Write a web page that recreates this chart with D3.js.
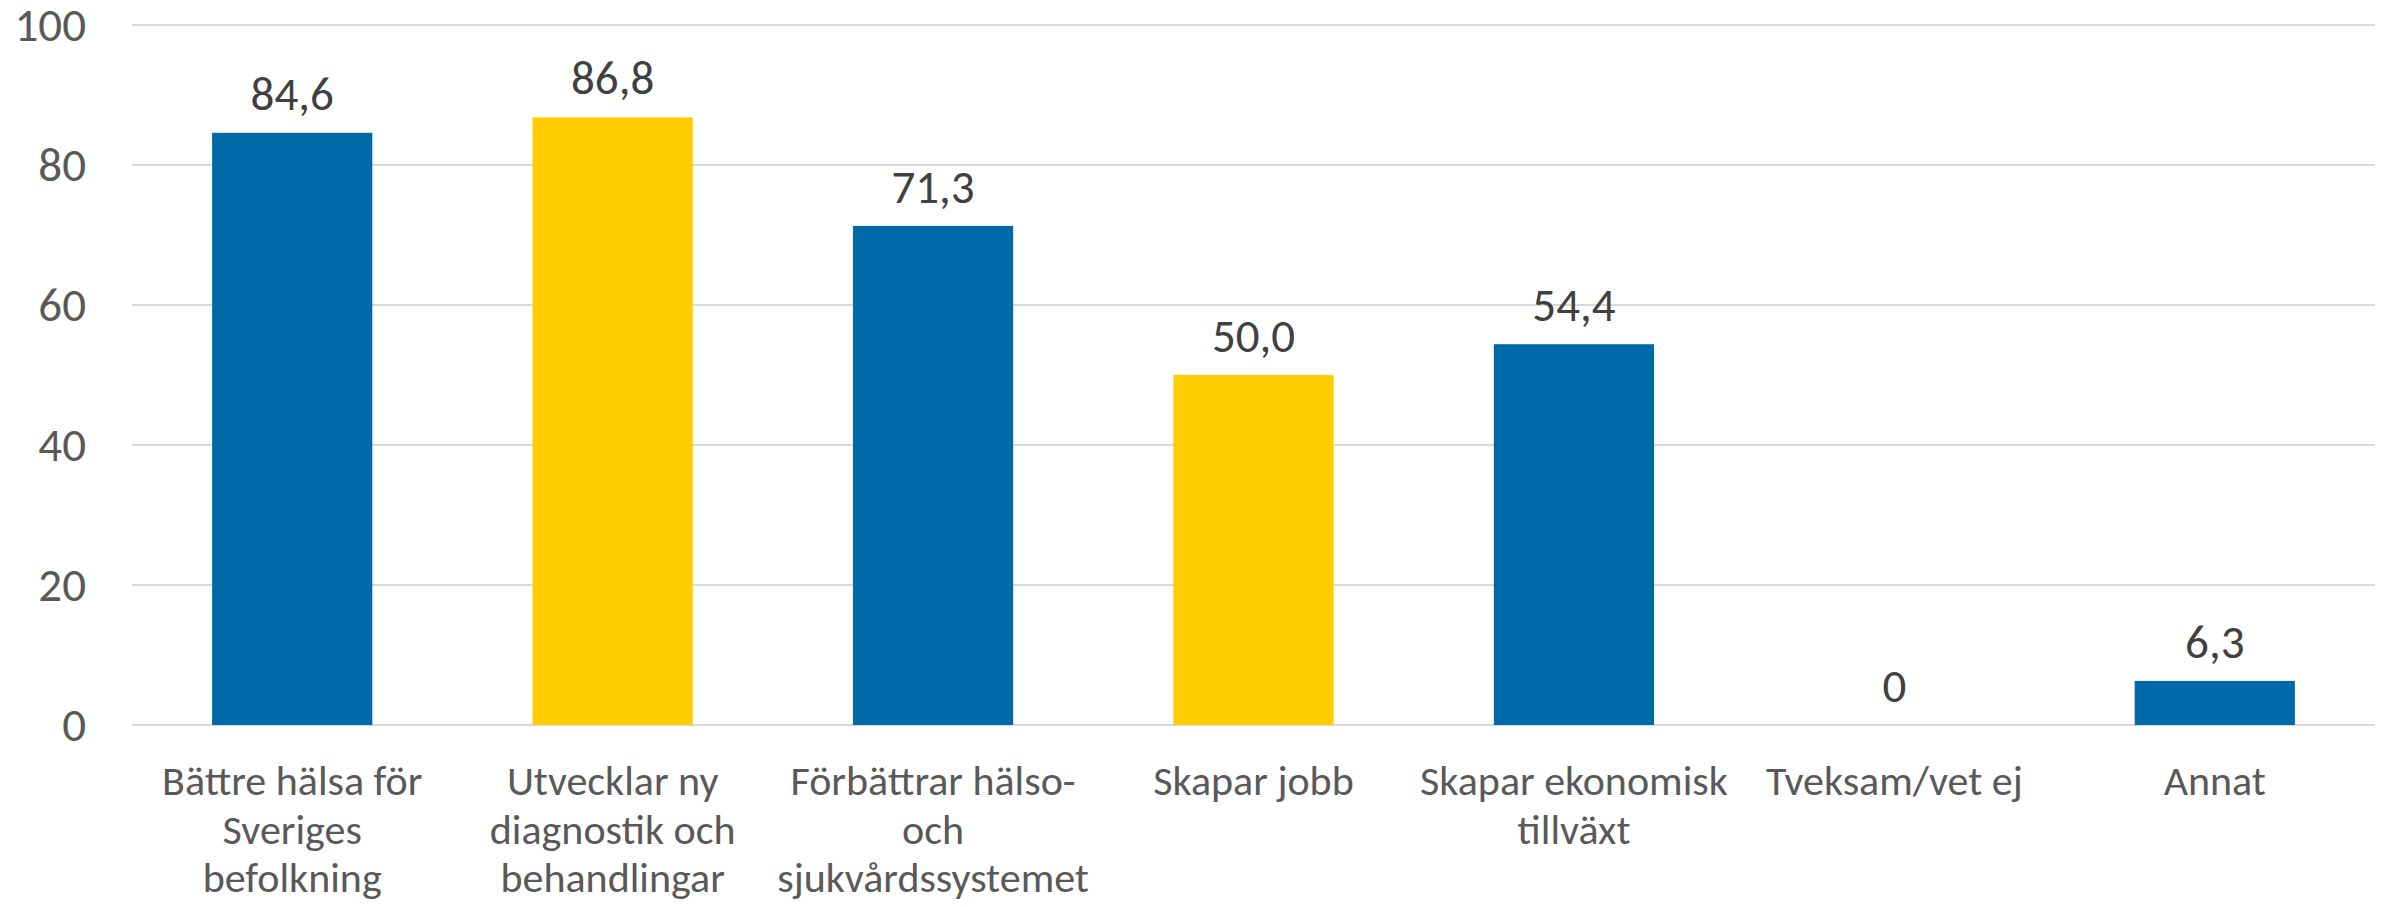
<!DOCTYPE html>
<html>
<head>
<meta charset="utf-8">
<script src="https://cdn.jsdelivr.net/npm/d3@7"></script>
<style>
  html, body { margin: 0; padding: 0; background: #ffffff; }
  svg { display: block; }
  svg text { font-family: Carlito, Calibri, Lato, "Open Sans", sans-serif; }
</style>
</head>
<body>
<div id="chart"></div>
<script>
// chart values
const categories = [
  "Bättre hälsa för\nSveriges\nbefolkning",
  "Utvecklar ny\ndiagnostik och\nbehandlingar",
  "Förbättrar hälso-\noch\nsjukvårdssystemet",
  "Skapar jobb",
  "Skapar ekonomisk\ntillväxt",
  "Tveksam/vet ej",
  "Annat"
];
const values = [84.6, 86.8, 71.3, 50.0, 54.4, 0, 6.3];
const labels = ["84,6", "86,8", "71,3", "50,0", "54,4", "0", "6,3"];
const barColors = ["#0069a7", "#ffcc00", "#0069a7", "#ffcc00", "#0069a7", "#0069a7", "#0069a7"];
const yTicks = [0, 20, 40, 60, 80, 100];

const width = 2389, height = 907;
const margin = { top: 25, right: 14, bottom: 182, left: 132 };

const svg = d3.select("#chart")
  .append("svg")
  .attr("width", width)
  .attr("height", height);

const x = d3.scaleBand()
  .domain(d3.range(categories.length))
  .range([margin.left, width - margin.right])
  .paddingInner(0.5)
  .paddingOuter(0.25);

const y = d3.scaleLinear()
  .domain([0, 100])
  .range([height - margin.bottom, margin.top]);

// gridlines
const g_grid = svg.append("g");
g_grid.selectAll("line")
  .data(yTicks)
  .enter()
  .append("line")
  .attr("x1", margin.left)
  .attr("x2", width - margin.right)
  .attr("y1", d => y(d))
  .attr("y2", d => y(d))
  .attr("stroke", "#d9d9d9")
  .attr("stroke-width", 2);

// y axis labels
const yAxis = d3.axisLeft(y).tickValues(yTicks).tickSize(0).tickPadding(46);
const g_yaxis = svg.append("g")
  .attr("transform", "translate(" + margin.left + ",0)")
  .call(yAxis);
g_yaxis.attr("font-family", null).attr("font-size", null);
g_yaxis.select(".domain").remove();
g_yaxis.selectAll("text")
  .style("font-size", "47px")
  .attr("fill", "#595959");

// bars
svg.append("g")
  .selectAll("rect")
  .data(values)
  .enter()
  .append("rect")
  .attr("x", (d, i) => x(i))
  .attr("y", d => y(d))
  .attr("width", x.bandwidth())
  .attr("height", d => y(0) - y(d))
  .attr("fill", (d, i) => barColors[i]);

// data labels
svg.append("g")
  .selectAll("text")
  .data(values)
  .enter()
  .append("text")
  .attr("x", (d, i) => x(i) + x.bandwidth() / 2)
  .attr("y", d => y(d) - 23)
  .attr("text-anchor", "middle")
  .style("font-size", "47px")
  .attr("fill", "#404040")
  .text((d, i) => labels[i]);

// category labels
const g_cats = svg.append("g");
categories.forEach((c, i) => {
  const t = g_cats.append("text")
    .attr("text-anchor", "middle")
    .style("font-size", "42px")
    .attr("fill", "#595959");
  c.split("\n").forEach((line, k) => {
    t.append("tspan")
      .attr("x", x(i) + x.bandwidth() / 2)
      .attr("y", y(0) + 70 + k * 48.5)
      .text(line);
  });
});
</script>
</body>
</html>
